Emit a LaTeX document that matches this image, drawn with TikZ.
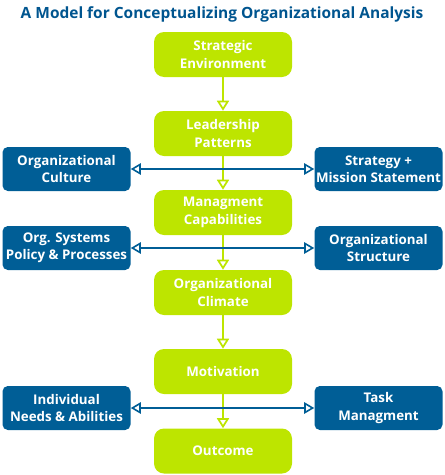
\documentclass[tikz,border=0pt]{standalone}
\usepackage{fontspec}
\setmainfont{Open Sans}
\usetikzlibrary{arrows.meta,positioning}
\definecolor{stageLime}{HTML}{BDE500}
\definecolor{factorBlue}{HTML}{005E96}
\definecolor{titleBlue}{HTML}{00558F}

\begin{document}
\begin{tikzpicture}[
    x=0.75pt, y=-0.75pt,
    font=\bfseries\fontsize{10}{13}\selectfont,
    % the central chain of stages
    stage/.style={fill=stageLime, text=white, rounded corners=7.5pt, align=center,
                  minimum width=103.5pt, minimum height=33.75pt, inner sep=2pt},
    % side factors feeding the chain
    factor/.style={fill=factorBlue, text=white, rounded corners=4pt, align=center,
                   minimum width=96pt, minimum height=33pt, inner sep=1pt},
    down/.style={line width=1.3pt, draw=stageLime,
                 -{Triangle[open, length=7.5pt, width=9pt, fill=white]}},
    link/.style={line width=1.2pt, draw=factorBlue,
                 {Triangle[open, length=7.5pt, width=8.5pt, fill=white]}-{Triangle[open, length=7.5pt, width=8.5pt, fill=white]}},
]
\useasboundingbox (0,0) rectangle (444,475);

%================= title =================%
\node[text=titleBlue, font=\fontsize{11.6}{13}\selectfont\bfseries] (title) at (222,14)
      {A Model for Conceptualizing Organizational Analysis};

%================= the chain of stages =================%
\node[stage] (env)   at (223,54.5)  {Strategic\\Environment};
\node[stage] (lead)  at (223,133.5) {Leadership\\Patterns};
\node[stage] (mgmt)  at (223,212.5) {Managment\\Capabilities};
\node[stage] (clim)  at (223,292.5) {Organizational\\Climate};
\node[stage] (motiv) at (223,371.5) {Motivation};
\node[stage] (out)   at (223,451)   {Outcome};
\draw[down] (env) -- (lead);
\draw[down] (lead) -- (mgmt);
\draw[down] (mgmt) -- (clim);
\draw[down] (clim) -- (motiv);
\draw[down] (motiv) -- (out);

%================= side factors =================%
\node[factor] (culture)  at (66.5,169)  {Organizational\\Culture};
\node[factor] (strategy) at (378.5,169) {Strategy +\\Mission Statement};
\node[factor] (systems)  at (66.5,248)  {Org. Systems\\Policy \& Processes};
\node[factor] (struct)   at (378.5,248) {Organizational\\Structure};
\node[factor] (needs)    at (66.5,408)  {Individual\\Needs \& Abilities};
\node[factor] (task)     at (378.5,408) {Task\\Managment};
\draw[link] (culture) -- (strategy);
\draw[link] (systems) -- (struct);
\draw[link] (needs) -- (task);

\end{tikzpicture}
\end{document}
